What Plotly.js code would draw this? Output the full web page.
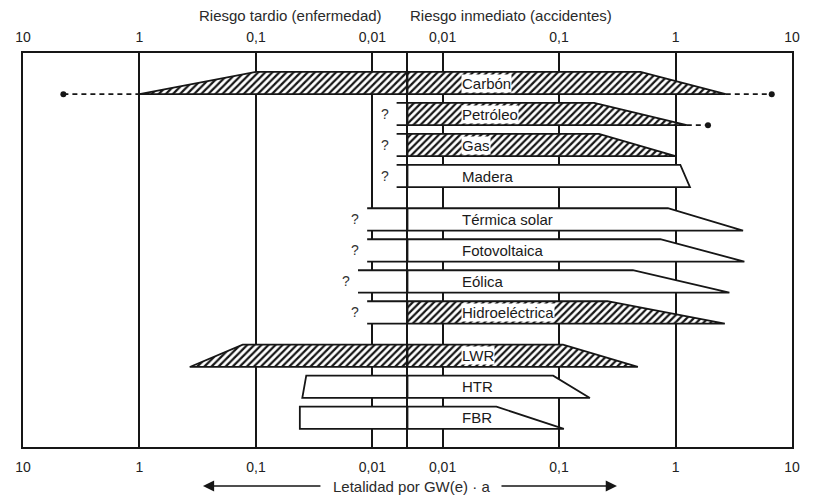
<!DOCTYPE html>
<html><head><meta charset="utf-8">
<script src="https://cdn.plot.ly/plotly-3.0.1.min.js"></script>
<style>html,body{margin:0;padding:0;background:#fff}#chart{width:819px;height:497px}</style>
</head><body><div id="chart"></div>
<script>
// ---------- DATOS ----------
const fuentes = ['Carbón','Petróleo','Gas','Madera','Térmica solar','Fotovoltaica','Eólica','Hidroeléctrica','LWR','HTR','FBR'];
const grupos  = ['Fósil','Fósil','Fósil','Fósil','Renovable','Renovable','Renovable','Renovable','Nuclear','Nuclear','Nuclear'];
// Riesgo tardío (enfermedad): extremo izquierdo del borde inferior y del superior
const tardioInferior = [1,    null, null, null, null, null, null, null, 0.37, 0.040, 0.042];
const tardioSuperior = [0.1,  null, null, null, null, null, null, null, 0.13, 0.037, 0.042];
// Riesgo tardío desconocido ("?"): hasta dónde llega el contorno abierto
const tardioIncierto = [null, 0.0062, 0.0062, 0.0062, 0.0111, 0.0111, 0.0133, 0.0111, null, null, null];
const tardioMaximo   = [4.5,  null, null, null, null, null, null, null, null, null, null];
// Riesgo inmediato (accidentes): extremo derecho del borde superior y del inferior
const inmediatoSuperior = [0.5, 0.2,  0.22, 1.1,  0.86, 0.74, 0.43, 0.26, 0.108, 0.089, 0.029];
const inmediatoInferior = [2.7, 1.25, 1.0,  1.33, 3.8,  3.9,  2.9,  2.65, 0.475, 0.184, 0.11];
const inmediatoMaximo   = [6.7, 1.9,  null, null, null, null, null, null, null, null, null];
// Zonas rayadas
const rayadoTardio    = [true, false, false, false, false, false, false, false, true, false, false];
const rayadoInmediato = [true, true,  true,  false, false, false, false, true,  true, false, false];
// Marcas de los ejes
const ticksValores = [10, 1, 0.1, 0.01];
const ticksTexto   = ['10', '1', '0,1', '0,01'];

// ---------- DIBUJO ----------
const CENTRO = 0.005;      // unión de las dos escalas
const H = 0.36;            // media altura de banda
const INK = '#161616';
const FONT = 'Liberation Sans, Arial, Helvetica, sans-serif';
const ordenGrupos = [...new Set(grupos)];
const pos = fuentes.map((f, i) => i + 0.4 * ordenGrupos.indexOf(grupos[i]));

const hatch = {shape: '/', fgcolor: INK, bgcolor: '#ffffff', size: 5, solidity: 0.45};
const traces = [];
function fillTrace(xs, ys, xa, ya, rayado, withLine) {
  const t = {x: xs, y: ys, xaxis: xa, yaxis: ya, mode: 'lines', fill: 'toself',
    fillcolor: '#ffffff', line: {color: INK, width: withLine ? 1.8 : 0},
    hoverinfo: 'skip', showlegend: false};
  if (rayado) t.fillpattern = hatch;
  return t;
}
function lineTrace(xs, ys, xa, ya, dash) {
  return {x: xs, y: ys, xaxis: xa, yaxis: ya, mode: 'lines', connectgaps: false,
    line: {color: INK, width: dash ? 1.6 : 1.8, dash: dash ? '5px,4px' : 'solid'},
    hoverinfo: 'skip', showlegend: false};
}
const annotations = [];

fuentes.forEach((f, i) => {
  const u = pos[i], top = u - H, bot = u + H;
  // lado izquierdo (riesgo tardío)
  if (tardioIncierto[i] != null) {
    const e = tardioIncierto[i];
    traces.push(fillTrace([e, CENTRO, CENTRO, e, e], [top, top, bot, bot, top], 'x', 'y', rayadoTardio[i], false));
    traces.push(lineTrace([CENTRO, e, null, e, CENTRO], [top, top, null, bot, bot], 'x', 'y', false));
    annotations.push({xref: 'x', yref: 'y', x: Math.log10(e), y: u, text: '?', showarrow: false,
      xanchor: 'right', xshift: -6, font: {family: FONT, size: 14, color: '#333'}});
  } else {
    const lb = tardioInferior[i], lt = tardioSuperior[i];
    traces.push(fillTrace([lb, lt, CENTRO, CENTRO, lb], [bot, top, top, bot, bot], 'x', 'y', rayadoTardio[i], false));
    traces.push(lineTrace([CENTRO, lt, lb, CENTRO], [top, top, bot, bot], 'x', 'y', false));
  }
  if (tardioMaximo[i] != null) {
    traces.push(lineTrace([tardioMaximo[i], tardioInferior[i]], [bot, bot], 'x', 'y', true));
    traces.push({x: [tardioMaximo[i]], y: [bot], xaxis: 'x', yaxis: 'y', mode: 'markers',
      marker: {color: INK, size: 6}, hoverinfo: 'skip', showlegend: false});
  }
  // lado derecho (riesgo inmediato)
  const rt = inmediatoSuperior[i], rb = inmediatoInferior[i];
  traces.push(fillTrace([CENTRO, rt, rb, CENTRO, CENTRO], [top, top, bot, bot, top], 'x2', 'y2', rayadoInmediato[i], true));
  if (inmediatoMaximo[i] != null) {
    traces.push(lineTrace([rb, inmediatoMaximo[i]], [bot, bot], 'x2', 'y2', true));
    traces.push({x: [inmediatoMaximo[i]], y: [bot], xaxis: 'x2', yaxis: 'y2', mode: 'markers',
      marker: {color: INK, size: 6}, hoverinfo: 'skip', showlegend: false});
  }
  annotations.push({xref: 'x2', yref: 'y2', x: Math.log10(0.0144), y: u, text: f, showarrow: false,
    xanchor: 'left', bgcolor: '#ffffff', borderpad: 0, font: {family: FONT, size: 15, color: '#1a1a1a'}});
});

// ejes superiores: trazas invisibles para que se dibujen sus etiquetas
traces.push({x: [1], y: [0], xaxis: 'x3', yaxis: 'y', mode: 'markers', marker: {opacity: 0}, hoverinfo: 'skip', showlegend: false});
traces.push({x: [1], y: [0], xaxis: 'x4', yaxis: 'y2', mode: 'markers', marker: {opacity: 0}, hoverinfo: 'skip', showlegend: false});

// títulos y flechas
const tf = {family: FONT, size: 15, color: '#2a2a2a'};
annotations.push({xref: 'paper', yref: 'paper', x: 0.2263, y: 1.0964, yanchor: 'middle', text: 'Riesgo tardio (enfermedad)', showarrow: false, font: tf});
annotations.push({xref: 'paper', yref: 'paper', x: 0.7685, y: 1.0964, yanchor: 'middle', text: 'Riesgo inmediato (accidentes)', showarrow: false, font: tf});
annotations.push({xref: 'paper', yref: 'paper', x: 0.5046, y: -0.099, yanchor: 'middle', text: 'Letalidad por GW(e) · a', showarrow: false, font: tf});
annotations.push({xref: 'paper', yref: 'paper', x: 0.234, y: -0.099, ax: 119, ay: 0, text: '', showarrow: true,
  arrowhead: 2, arrowsize: 1.4, arrowwidth: 1.6, arrowcolor: INK});
annotations.push({xref: 'paper', yref: 'paper', x: 0.7724, y: -0.099, ax: -117, ay: 0, text: '', showarrow: true,
  arrowhead: 2, arrowsize: 1.4, arrowwidth: 1.6, arrowcolor: INK});

const yr = [11.742, -0.968];
const lc = Math.log10(CENTRO);
const baseX = {type: 'log', tickvals: ticksValores, ticktext: ticksTexto, showgrid: true, gridcolor: INK,
  gridwidth: 2, zeroline: false, showline: true, linecolor: INK, linewidth: 2, mirror: true,
  ticks: 'outside', ticklen: 6, tickcolor: 'rgba(0,0,0,0)', tickfont: {family: FONT, size: 14, color: '#222'},
  fixedrange: true};
const topX = {type: 'log', tickvals: ticksValores, ticktext: ticksTexto, showgrid: false, zeroline: false,
  showline: false, side: 'top', ticks: 'outside', ticklen: 4, tickcolor: 'rgba(0,0,0,0)',
  tickfont: {family: FONT, size: 14, color: '#222'}, fixedrange: true};
const baseY = {range: yr, showgrid: false, zeroline: false, showticklabels: false, ticks: '',
  showline: true, linecolor: INK, linewidth: 2, fixedrange: true};

const layout = {
  width: 819, height: 497,
  margin: {l: 23, r: 27, t: 53, b: 50},
  paper_bgcolor: '#ffffff', plot_bgcolor: '#ffffff',
  showlegend: false,
  xaxis:  Object.assign({}, baseX, {domain: [0, 0.5], range: [1, lc], anchor: 'y'}),
  xaxis2: Object.assign({}, baseX, {domain: [0.5, 1], range: [lc, 1], anchor: 'y2'}),
  xaxis3: Object.assign({}, topX, {overlaying: 'x', range: [1, lc], anchor: 'y'}),
  xaxis4: Object.assign({}, topX, {overlaying: 'x2', range: [lc, 1], anchor: 'y2'}),
  yaxis:  Object.assign({}, baseY, {anchor: 'x', domain: [0, 1], mirror: false}),
  yaxis2: Object.assign({}, baseY, {anchor: 'x2', domain: [0, 1], mirror: true, matches: 'y'}),
  annotations: annotations
};
Plotly.newPlot('chart', traces, layout, {staticPlot: true, displayModeBar: false});
</script></body></html>
